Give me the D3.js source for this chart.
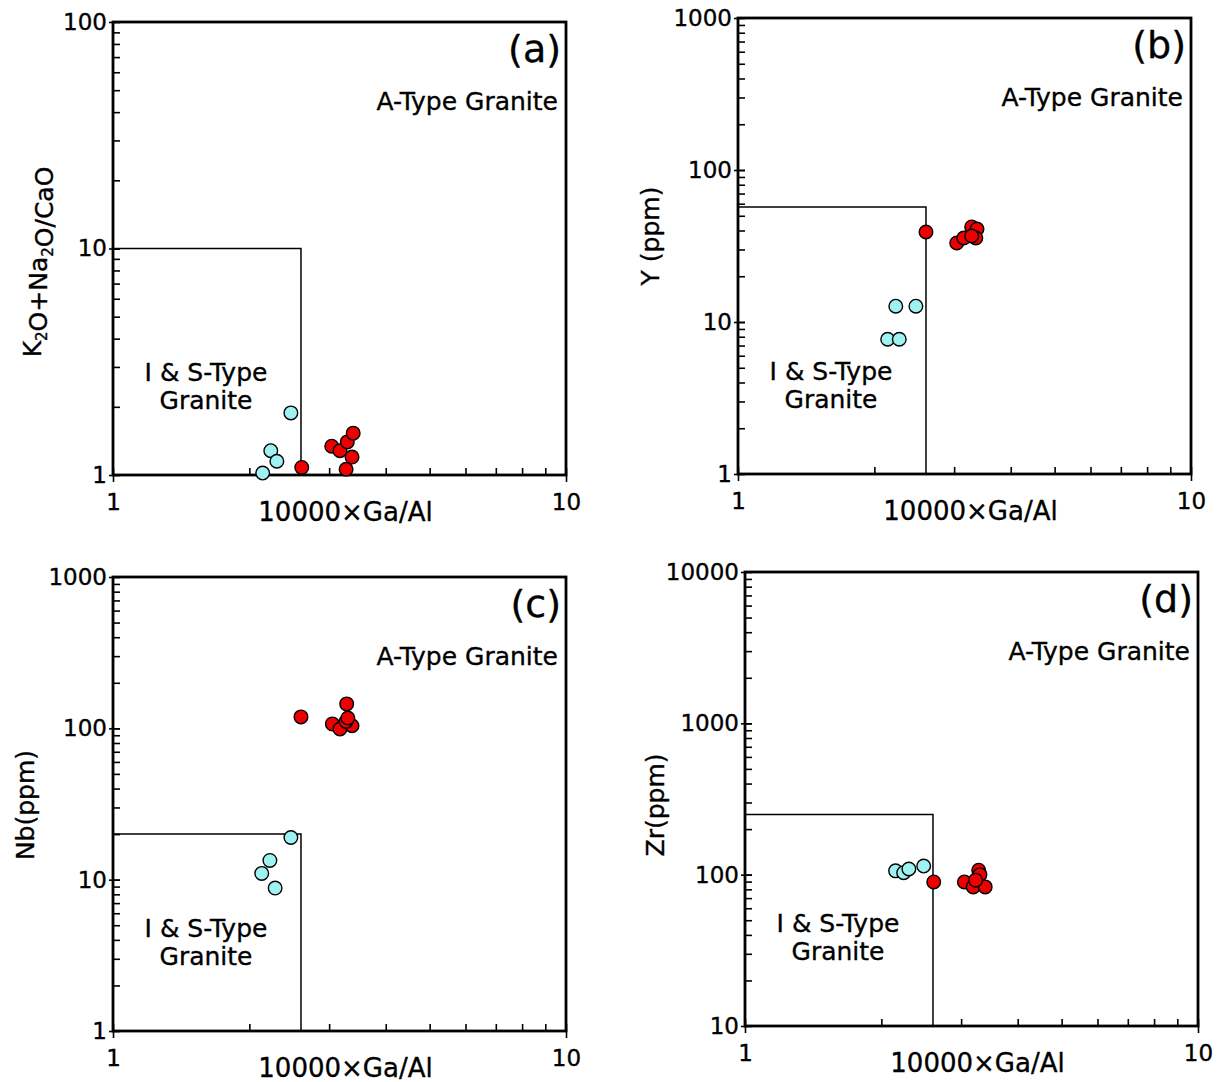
<!DOCTYPE html>
<html>
<head>
<meta charset="utf-8">
<script src="https://cdn.jsdelivr.net/npm/d3@7"></script>
<style>
  body { margin: 0; background: #fff; }
  svg { display: block; }
  text { font-family: "DejaVu Sans", sans-serif; fill: #000; stroke: #000; stroke-width: 0.35px; }
</style>
</head>
<body>
<div id="chart"></div>
<script>
// Ga/Al discrimination diagrams (Whalen et al. style)
const xDomain = [1, 10];
const xTickLabels = [1, 10];
const gaAlBoundary = 2.6;

// (a) K2O+Na2O/CaO
const aCyanX = [2.47, 2.23, 2.30, 2.14];
const aCyanY = [1.88, 1.28, 1.15, 1.02];
const aRedX = [2.61, 3.04, 3.17, 3.29, 3.39, 3.37, 3.27];
const aRedY = [1.08, 1.34, 1.28, 1.40, 1.53, 1.20, 1.06];

// (b) Y (ppm)
const bCyanX = [2.23, 2.47, 2.14, 2.27];
const bCyanY = [12.7, 12.7, 7.7, 7.7];
const bRedX = [2.60, 3.04, 3.15, 3.28, 3.37, 3.35, 3.28];
const bRedY = [39.1, 33.1, 35.7, 42.2, 40.9, 35.7, 36.8];

// (c) Nb (ppm)
const cCyanX = [2.47, 2.22, 2.13, 2.28];
const cCyanY = [19.0, 13.4, 11.0, 8.8];
const cRedX = [2.60, 3.28, 3.05, 3.17, 3.37, 3.27, 3.30];
const cRedY = [119, 145, 107, 99, 104, 111, 117];

// (d) Zr (ppm)
const dCyanX = [2.15, 2.24, 2.30, 2.48];
const dCyanY = [106, 103, 109, 114];
const dRedX = [2.61, 3.05, 3.19, 3.28, 3.30, 3.39, 3.23];
const dRedY = [89.5, 89.5, 83, 107, 100, 83, 92];

const yDomains = [[1, 100], [1, 1000], [1, 1000], [10, 10000]];
const yBoundaries = [10, 57, 20, 250];
const panelTags = ["(a)", "(b)", "(c)", "(d)"];

const cyan = "#9ff2f2";
const red = "#ee0000";

const svg = d3.select("#chart").append("svg")
  .attr("width", 1225)
  .attr("height", 1082);

const panels = [
  { left: 113, top: 22, width: 453, height: 453, yLabelX: 32, yLabelY: 262,
    yLabel: [["K", 0], ["2", 1], ["O+Na", 0], ["2", 1], ["O/CaO", 0]],
    cyanX: aCyanX, cyanY: aCyanY, redX: aRedX, redY: aRedY },
  { left: 738, top: 18, width: 453, height: 456, yLabelX: 650, yLabelY: 236,
    yLabel: [["Y (ppm)", 0]],
    cyanX: bCyanX, cyanY: bCyanY, redX: bRedX, redY: bRedY },
  { left: 113, top: 577, width: 453, height: 454, yLabelX: 25, yLabelY: 805,
    yLabel: [["Nb(ppm)", 0]],
    cyanX: cCyanX, cyanY: cCyanY, redX: cRedX, redY: cRedY },
  { left: 745, top: 572, width: 453, height: 454, yLabelX: 655, yLabelY: 805,
    yLabel: [["Zr(ppm)", 0]],
    cyanX: dCyanX, cyanY: dCyanY, redX: dRedX, redY: dRedY }
];

function minorTicks(domain) {
  const out = [];
  for (let d = domain[0]; d < domain[1]; d *= 10) {
    for (let k = 1; k <= 10; k++) out.push(d * k);
  }
  return out;
}

function majorTicks(domain) {
  const out = [];
  for (let d = domain[0]; d <= domain[1]; d *= 10) out.push(d);
  return out;
}

panels.forEach((p, i) => {
  const g = svg.append("g").attr("transform", `translate(${p.left},${p.top})`);

  const x = d3.scaleLog().domain(xDomain).range([0, p.width]);
  const y = d3.scaleLog().domain(yDomains[i]).range([p.height, 0]);

  // inward minor ticks
  const xMinor = g.append("g")
    .attr("transform", `translate(0,${p.height})`)
    .call(d3.axisBottom(x).tickValues(minorTicks(xDomain)).tickSize(-7).tickFormat(""));
  const yMinor = g.append("g")
    .call(d3.axisLeft(y).tickValues(minorTicks(yDomains[i])).tickSize(-7).tickFormat(""));

  // labelled majors
  const xMajor = g.append("g")
    .attr("transform", `translate(0,${p.height})`)
    .call(d3.axisBottom(x).tickValues(xTickLabels).tickSize(7).tickPadding(12)
      .tickFormat(d3.format("d")));
  const yMajor = g.append("g")
    .call(d3.axisLeft(y).tickValues(majorTicks(yDomains[i])).tickSize(4).tickPadding(2)
      .tickFormat(d3.format("d")));

  [xMinor, yMinor, xMajor, yMajor].forEach((ax) => {
    ax.select(".domain").remove();
    ax.selectAll(".tick line").attr("stroke", "#000").attr("stroke-width", 1.6);
    ax.selectAll(".tick text")
      .style("font-size", "23px")
      .style("font-family", "DejaVu Sans, sans-serif")
      .attr("fill", "#000");
  });

  // boundary of the I & S-type field
  const by = yBoundaries[i];
  g.append("path")
    .attr("d", d3.line()([
      [x(xDomain[0]), y(by)],
      [x(gaAlBoundary), y(by)],
      [x(gaAlBoundary), y(yDomains[i][0])]
    ]))
    .attr("fill", "none")
    .attr("stroke", "#000")
    .attr("stroke-width", 1.5);

  // frame
  g.append("rect")
    .attr("width", p.width)
    .attr("height", p.height)
    .attr("fill", "none")
    .attr("stroke", "#000")
    .attr("stroke-width", 2.8);

  // points
  const pts = p.cyanX.map((v, j) => ({ x: v, y: p.cyanY[j], c: cyan }))
    .concat(p.redX.map((v, j) => ({ x: v, y: p.redY[j], c: red })));
  g.selectAll("circle.pt")
    .data(pts)
    .enter()
    .append("circle")
    .attr("class", "pt")
    .attr("cx", (d) => x(d.x))
    .attr("cy", (d) => y(d.y))
    .attr("r", 6.8)
    .attr("fill", (d) => d.c)
    .attr("stroke", "#000")
    .attr("stroke-width", 1.4);

  // texts
  g.append("text")
    .attr("x", p.width - 5)
    .attr("y", 40)
    .attr("text-anchor", "end")
    .style("font-size", "38px")
    .text(panelTags[i]);

  g.append("text")
    .attr("x", p.width - 8)
    .attr("y", 88)
    .attr("text-anchor", "end")
    .style("font-size", "25px")
    .text("A-Type Granite");

  const isText = g.append("text")
    .attr("text-anchor", "middle")
    .style("font-size", "25px");
  isText.append("tspan").attr("x", 93).attr("y", p.height - 94).text("I & S-Type");
  isText.append("tspan").attr("x", 93).attr("y", p.height - 66).text("Granite");

  g.append("text")
    .attr("x", p.width / 2 + 6)
    .attr("y", p.height + 46)
    .attr("text-anchor", "middle")
    .style("font-size", "26px")
    .text("10000×Ga/Al");

  const yl = svg.append("text")
    .attr("transform", `translate(${p.yLabelX + 9},${p.yLabelY}) rotate(-90)`)
    .attr("text-anchor", "middle")
    .style("font-size", "25px");
  p.yLabel.forEach(([t, sub]) => {
    yl.append("tspan")
      .attr("dy", sub ? 6 : 0)
      .style("font-size", sub ? "15px" : "25px")
      .text(t);
    if (sub) yl.append("tspan").attr("dy", -6).text("");
  });
});
</script>
</body>
</html>
